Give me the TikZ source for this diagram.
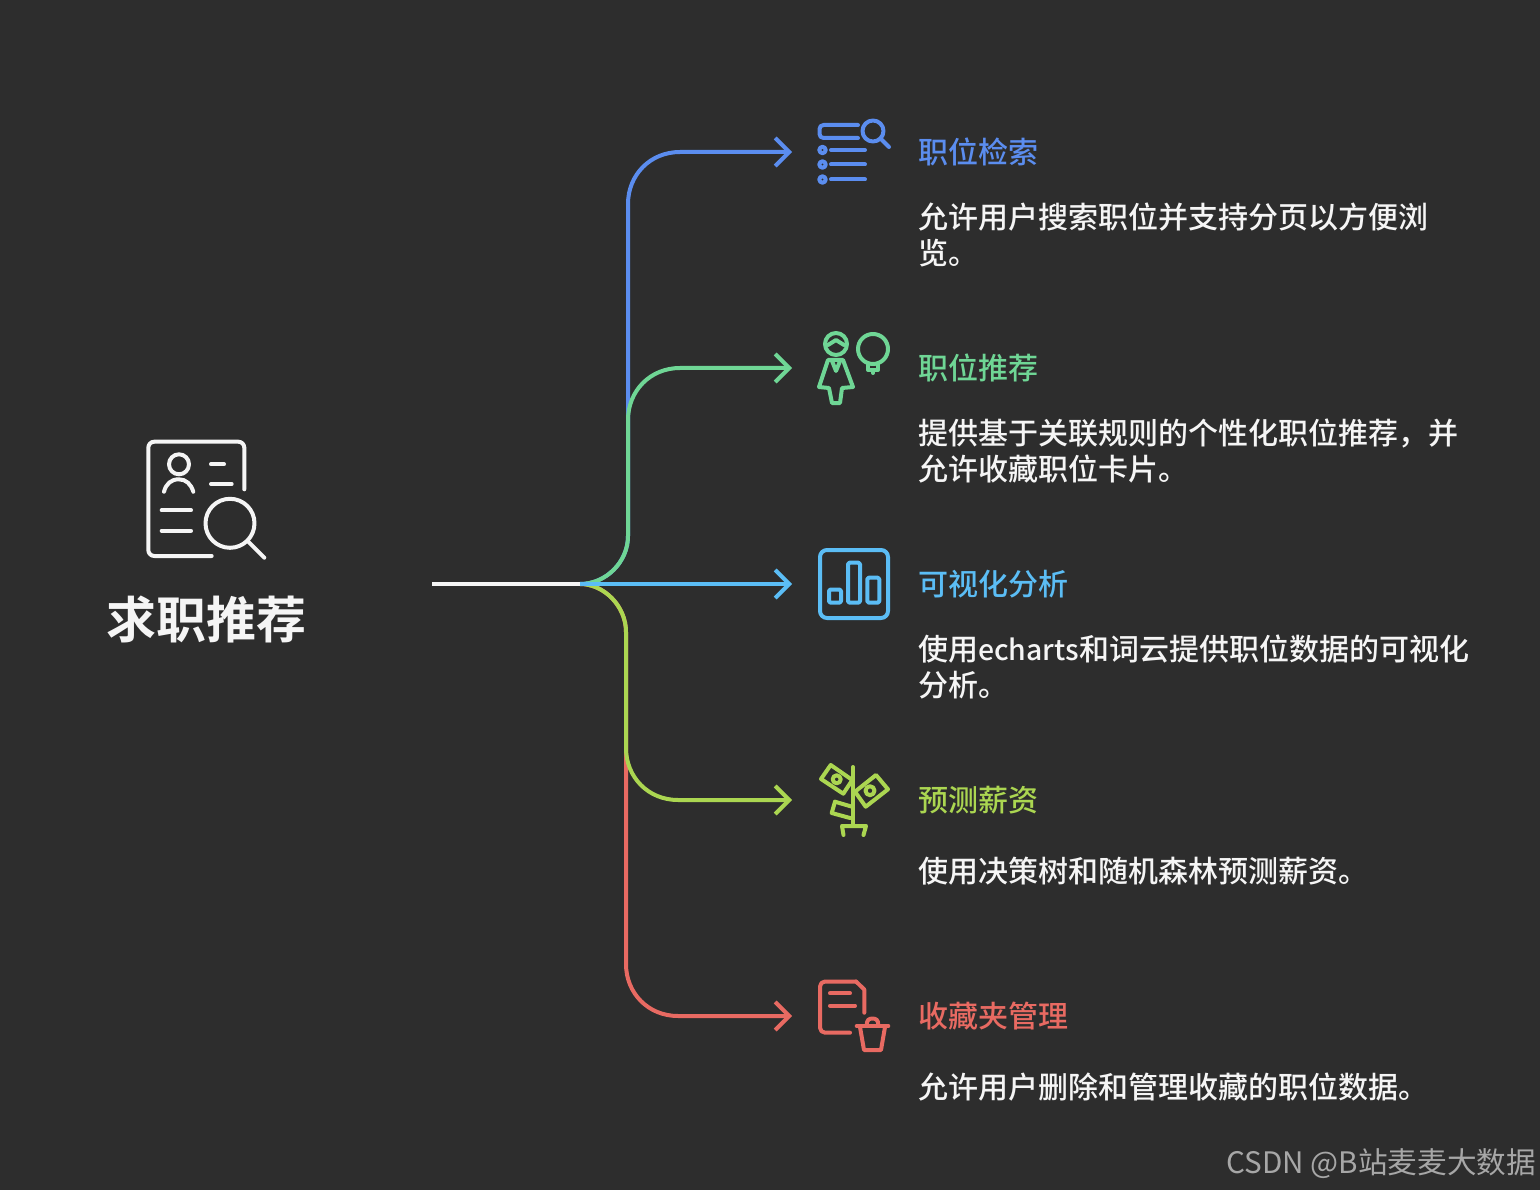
\documentclass[tikz,border=0pt]{standalone}
\usepackage{fontspec}
\setmainfont{Noto Sans CJK SC Medium}[BoldFont={Noto Sans CJK SC Bold}]
\newfontfamily\markfont{Noto Sans CJK SC}
\usetikzlibrary{positioning,arrows.meta}
\definecolor{darkbg}{HTML}{2D2D2D}
\definecolor{paleline}{HTML}{F5F5F5}
\definecolor{searchblue}{HTML}{5B8DEF}
\definecolor{recgreen}{HTML}{6FD695}
\definecolor{chartcyan}{HTML}{5BBDF5}
\definecolor{payolive}{HTML}{ABD651}
\definecolor{favred}{HTML}{E86A62}
\tikzset{
	branch/.style={line width=4pt,-{Straight Barb[length=14pt,width=28pt,line width=4pt]}},
	icon/.style={line width=4pt,line cap=round,line join=round},
	headtext/.style={inner sep=0pt,anchor=west,font=\fontsize{30}{36}\selectfont},
	bodytext/.style={inner sep=0pt,anchor=north west,align=left,text=paleline,font=\fontsize{30}{36}\selectfont},
}
\begin{document}
\begin{tikzpicture}[x=1pt,y=-1pt]
	\useasboundingbox[fill=darkbg] (0,0) rectangle (1540,1190);
	
	\coordinate (start) at (432,584);
	\coordinate (hub) at (580,584);
	\coordinate (tip1) at (792,152);
	\coordinate (tip2) at (792,368);
	\coordinate (tip3) at (792,584);
	\coordinate (tip4) at (792,800);
	\coordinate (tip5) at (792,1016);
	
	\draw[branch,color=searchblue] (hub) .. controls (606,584) and (628,562) .. (628,536) -- (628,204) .. controls (628,175) and (650,152) .. (680,152) -- (tip1);
	\draw[branch,color=recgreen] (hub) .. controls (606,584) and (628,562) .. (628,536) -- (628,420) .. controls (628,391) and (650,368) .. (680,368) -- (tip2);
	\draw[branch,color=favred] (hub) .. controls (604,584) and (626,606) .. (626,632) -- (626,964) .. controls (626,993) and (648,1016) .. (678,1016) -- (tip5);
	\draw[branch,color=payolive] (hub) .. controls (604,584) and (626,606) .. (626,632) -- (626,748) .. controls (626,777) and (648,800) .. (678,800) -- (tip4);
	\draw[branch,color=chartcyan] (hub) -- (tip3);
	\draw[line width=4pt,color=paleline] (start) -- (hub);
	
	\node[inner sep=0pt,text=paleline,font=\fontsize{50}{58}\selectfont\bfseries](root) at (206,619){求职推荐};
	
	\node[headtext,text=searchblue](head1) at (918,152){职位检索};
	\node[bodytext,below=51pt of head1.west,anchor=north west](body1){允许用户搜索职位并支持分页以方便浏\\览。};
	\node[headtext,text=recgreen](head2) at (918,368){职位推荐};
	\node[bodytext,below=51pt of head2.west,anchor=north west](body2){提供基于关联规则的个性化职位推荐，并\\允许收藏职位卡片。};
	\node[headtext,text=chartcyan](head3) at (918,584){可视化分析};
	\node[bodytext,below=51pt of head3.west,anchor=north west](body3){使用{\fontsize{28.4}{36}\selectfont echarts}和词云提供职位数据的可视化\\分析。};
	\node[headtext,text=payolive](head4) at (918,800){预测薪资};
	\node[bodytext,below=57pt of head4.west,anchor=north west](body4){使用决策树和随机森林预测薪资。};
	\node[headtext,text=favred](head5) at (918,1016){收藏夹管理};
	\node[bodytext,below=57pt of head5.west,anchor=north west](body5){允许用户删除和管理收藏的职位数据。};
	
	\node[inner sep=0pt,anchor=east,text=white!58!darkbg,font=\markfont\fontsize{29.6}{34}\selectfont](mark) at (1536,1164){CSDN @B站麦麦大数据};
	
	% main icon
	\begin{scope}[icon,color=paleline]
		\draw[rounded corners=6pt] (211.7,556) -- (148.3,556) -- (148.3,441.7) -- (244.3,441.7) -- (244.3,489.3);
		\draw (179,464.3) circle[radius=10];
		\draw (164,491.7) .. controls (166,484) and (171,479.3) .. (178.7,479.3) .. controls (186,479.3) and (191,484) .. (193.3,491.7);
		\draw (211,464.3) -- (224,464.3);
		\draw (211,484) -- (231.7,484);
		\draw (161.7,510.3) -- (191,510.3);
		\draw (161.7,530.7) -- (191,530.7);
		\draw (230,523.3) circle[radius=24.5];
		\draw (248.3,541.7) -- (264.3,557.7);
	\end{scope}
	
	% search icon
	\begin{scope}[icon,color=searchblue]
		\draw[rounded corners=4pt] (858,125) -- (819.5,125) -- (819.5,138) -- (858,138);
		\draw (873,131) circle[radius=10.5];
		\draw (881,139) -- (889,147);
		\foreach \rowy in {150,164.5,179.5}{
			\draw (822.5,\rowy) circle[radius=3.2];
			\draw (831,\rowy) -- (865,\rowy);
		}
	\end{scope}
	
	% person and bulb icon
	\begin{scope}[icon,color=recgreen]
		\draw (836,344) circle[radius=11];
		\draw (828,345) -- (836,340) -- (844,345);
		\draw (828,360) -- (843,360) -- (853,387) -- (842,388) -- (840,403) -- (832,403) -- (829,388) -- (819,387) -- cycle;
		\draw (832,361) -- (836,371) -- (840,361);
		\draw (873,349) circle[radius=15];
		\draw (868,363) -- (868,370) -- (878,370) -- (878,363);
		\draw (873,370) -- (873,373);
	\end{scope}
	
	% chart icon
	\begin{scope}[icon,color=chartcyan]
		\draw[rounded corners=7pt] (820,550) rectangle (888,618);
		\draw[rounded corners=1.5pt] (829,589.5) rectangle (841,602.7);
		\draw[rounded corners=1.5pt] (848,562.7) rectangle (860,602.7);
		\draw[rounded corners=1.5pt] (867.3,577.7) rectangle (879.3,602.7);
	\end{scope}
	
	% money plant icon
	\begin{scope}[icon,color=payolive]
		\draw (853,767) -- (853,825);
		\draw (843.5,835) -- (842,826) -- (866,826) -- (863.5,835);
		\draw (830.7,765) -- (852.3,780) -- (843.3,793.7) -- (821,779) -- cycle;
		\draw (836.7,779.3) circle[radius=4];
		\draw (876,775) -- (888,789.3) -- (865.7,806.7) -- (855,791.7) -- cycle;
		\draw (870,790.7) circle[radius=4.5];
		\draw (835,801.7) -- (853,807);
		\draw (850,818) -- (831.7,813) -- (835,801.7);
	\end{scope}
	
	% delete favourite icon
	\begin{scope}[icon,color=favred]
		\draw[rounded corners=5pt] (850,1032.7) -- (820,1032.7) -- (820,981.5) -- (856,981.5);
		\draw (856,981.5) -- (864.3,989.5) -- (864.3,1012.7);
		\draw (830,993.3) -- (850,993.3);
		\draw (830,1005.7) -- (855,1005.7);
		\draw (856.7,1026) -- (888.3,1026);
		\draw (866.7,1025) .. controls (866.7,1020) and (869,1018.5) .. (872.5,1018.5) .. controls (876,1018.5) and (878.3,1020) .. (878.3,1025);
		\draw (860,1027) -- (864,1050) -- (881,1050) -- (885,1027);
	\end{scope}
\end{tikzpicture}
\end{document}
